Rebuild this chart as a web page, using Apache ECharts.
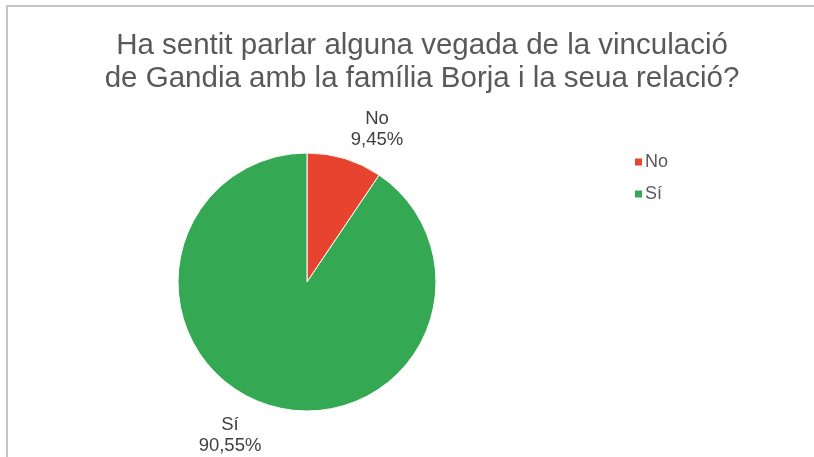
<!DOCTYPE html>
<html>
<head>
<meta charset="utf-8">
<script src="https://cdn.jsdelivr.net/npm/echarts@6/dist/echarts.min.js"></script>
<style>html,body{margin:0;padding:0;background:#fff}#c{width:814px;height:457px}</style>
</head>
<body>
<div id="c"></div>
<script>
var titleLines = ["Ha sentit parlar alguna vegada de la vinculació", "de Gandia amb la família Borja i la seua relació?"];
var categories = ["No", "Sí"];
var values = [9.45, 90.55];
var colors = ["#e8432f", "#35a853"];

var chart = echarts.init(document.getElementById('c'), null, {renderer: 'canvas'});
var labelPos = [[377, 129.5], [230, 435]];
chart.setOption({
  backgroundColor: '#ffffff',
  animation: false,
  title: {
    text: titleLines.join('\n'),
    left: 417, top: 24, textAlign: 'center',
    textStyle: {fontFamily: 'Liberation Sans, Arial', fontWeight: 'normal', fontSize: 29.5, lineHeight: 33, color: '#595959'}
  },
  legend: {
    orient: 'vertical', left: 628, top: 148,
    icon: 'rect', itemWidth: 9, itemHeight: 9, itemGap: 14,
    textStyle: {fontFamily: 'Liberation Sans, Arial', fontSize: 18, color: '#595959', padding: [0,0,0,-3]},
    data: categories
  },
  graphic: [{
    type: 'rect', shape: {x: 7, y: 6, width: 900, height: 600},
    style: {fill: 'none', stroke: '#c4c4c4', lineWidth: 2}, silent: true
  }],
  series: [{
    type: 'pie',
    center: [307, 282], radius: 129,
    startAngle: 90, clockwise: true,
    itemStyle: {borderColor: '#ffffff', borderWidth: 1},
    label: {
      show: true, position: 'outside',
      formatter: function(p){ return p.name + '\n' + p.value.toFixed(2).replace('.', ',') + '%'; },
      fontFamily: 'Liberation Sans, Arial', fontSize: 18.5, lineHeight: 21, color: '#404040', align: 'center'
    },
    labelLine: {show: false},
    labelLayout: function(p){ var q = labelPos[p.dataIndex]; return {x: q[0], y: q[1], align: 'center', verticalAlign: 'middle'}; },
    data: categories.map(function(c, i){ return {name: c, value: values[i], itemStyle: {color: colors[i]}}; })
  }]
});
</script>
</body>
</html>
